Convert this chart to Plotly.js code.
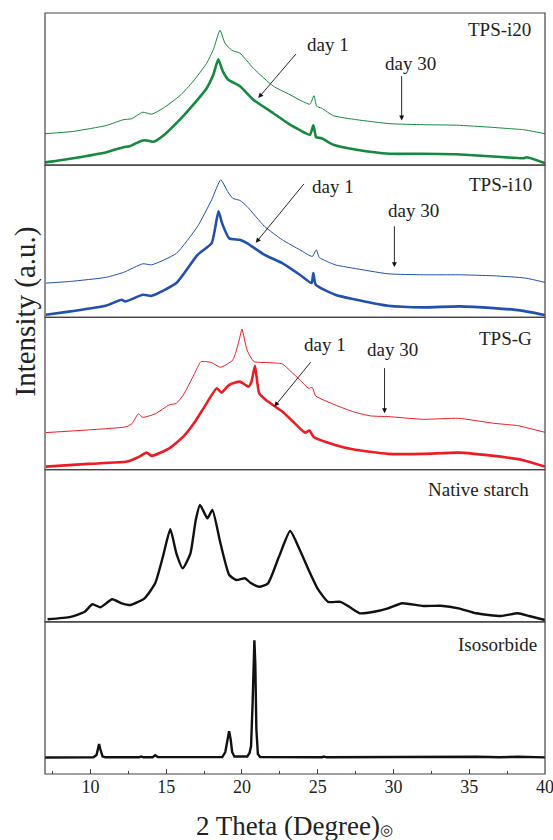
<!DOCTYPE html>
<html><head><meta charset="utf-8">
<script src="https://cdn.plot.ly/plotly-3.0.1.min.js"></script>
<style>html,body{margin:0;padding:0;background:#fff}#chart{width:553px;height:840px}</style>
</head><body><div id="chart"></div>
<script>
// ---- data (2θ in degrees, intensity in arbitrary units per panel) ----
const xTickVals = [10, 15, 20, 25, 30, 35, 40];
const panelNames = ["TPS-i20", "TPS-i10", "TPS-G", "Native starch", "Isosorbide"];

const i20Day30X = [7, 8.87, 11.07, 12.17, 12.72, 13.45, 14.04, 14.8, 15.9, 16.79, 17.67, 18.11, 18.55, 18.88, 19.32, 19.87, 20.75, 22.07, 23.17, 23.83, 24.49, 24.75, 24.93, 25.26, 26.03, 27.57, 29.77, 31.97, 34.17, 36.37, 38.57, 38.8, 40];
const i20Day30Y = [31.5, 33.8, 39.8, 45.5, 46.5, 53, 51, 57, 69.5, 84, 102, 115.5, 135, 122, 115, 112, 97, 79, 70.5, 65, 61, 69.5, 59, 57, 49.5, 45.5, 41.5, 40.5, 40, 38, 35.5, 35, 31.5];
const i20Day1X = [7, 8.87, 11.07, 12.17, 12.6, 13.3, 13.6, 14.15, 14.8, 15.9, 16.79, 17.67, 18.11, 18.44, 18.73, 19.1, 19.87, 20.75, 22.07, 23.17, 23.83, 24.49, 24.71, 24.9, 25.26, 26.03, 27.57, 29.77, 31.97, 34.17, 36.37, 38.57, 38.8, 40];
const i20Day1Y = [2.8, 7, 13, 18, 19, 24, 25, 23.5, 29.5, 45.5, 60.5, 77, 90.5, 106, 94, 85.5, 79, 65.5, 52, 40.5, 35, 30.5, 40, 28, 27, 20.5, 15.5, 11.5, 11.5, 11, 9, 7, 8, 2];

const i10Day30X = [7.06, 8.69, 11.01, 12.18, 13.46, 14.04, 15.67, 17.07, 18.0, 18.6, 19.05, 19.4, 19.86, 20.33, 21.49, 22.66, 23.82, 24.64, 24.91, 25.1, 26.15, 27.31, 29.64, 31.97, 34.3, 36.62, 38.72, 40];
const i10Day30Y = [34.3, 36, 40, 45, 53.6, 52.6, 64, 91, 117.6, 137.6, 126, 119, 117, 111, 91, 77.6, 67.6, 61, 67.6, 60, 52.6, 49.3, 43.6, 42.6, 42.6, 41.6, 39.3, 35];
const i10Day1X = [7.06, 8.69, 11.01, 12.06, 12.3, 13.46, 14.04, 15.67, 17.07, 18.0, 18.45, 18.69, 19.16, 19.86, 20.33, 21.49, 22.66, 23.82, 24.59, 24.71, 24.87, 26.15, 27.31, 29.64, 31.97, 34.3, 36.62, 38.37, 40];
const i10Day1Y = [2.6, 6, 11.6, 17.6, 16, 22.6, 21.6, 34.3, 62.6, 74.3, 106, 94, 79, 77.6, 74.3, 62.6, 54.3, 42.6, 34.3, 44.3, 32.6, 22.6, 18.3, 11.6, 10, 11, 9.3, 7, 2.3];

const gDay30X = [7.06, 9.85, 12.41, 12.76, 13.16, 13.46, 14.27, 15.2, 15.67, 16.13, 16.83, 17.3, 18.0, 18.58, 19.4, 19.82, 20.0, 20.33, 20.79, 21.72, 22.66, 23.24, 23.82, 24.4, 24.63, 24.87, 26.15, 27.31, 28.48, 29.64, 31.97, 34.3, 36.62, 38.2, 38.49, 40];
const gDay30Y = [37, 39.7, 43, 46.3, 55.7, 52.3, 55.7, 64.7, 66.3, 74.7, 94.7, 108, 107, 102.3, 109.7, 129.7, 140.4, 119.7, 108, 107, 105.7, 98, 89.7, 81.3, 82.3, 73.7, 64.7, 58, 53.7, 53, 50.3, 51.3, 46.3, 44, 43, 37.3];
const gDay1X = [7.06, 9.85, 12.41, 13.23, 13.7, 14.04, 15.2, 16.13, 16.83, 17.53, 18.34, 18.65, 19.16, 19.86, 20.44, 20.63, 20.86, 21.14, 21.72, 22.66, 23.59, 24.17, 24.45, 24.75, 26.15, 27.31, 29.64, 31.97, 34.3, 36.62, 38.49, 40];
const gDay1Y = [3, 5.7, 8, 13, 17, 13.7, 21.3, 33, 46.3, 63, 81.3, 77, 84.7, 88, 83, 88, 103.7, 76.3, 68, 58, 44.7, 37, 39, 32.3, 24.7, 20.3, 15.7, 15.7, 17, 13.7, 9.7, 3];

const starchX = [7.17, 8.69, 9.62, 10.13, 10.66, 11.43, 12.06, 12.64, 13.57, 14.27, 14.78, 15.27, 15.67, 16.09, 16.6, 16.95, 17.23, 17.72, 18.05, 18.58, 19.16, 19.63, 20.21, 20.56, 21.14, 21.72, 22.44, 23.18, 23.82, 24.4, 24.98, 25.68, 26.5, 27.08, 27.78, 28.71, 29.64, 30.57, 31.97, 33.13, 34.3, 35.46, 37.09, 38.21, 38.95, 40];
const starchY = [2.5, 5, 10, 17.5, 14.5, 22.5, 18.5, 16.8, 23.5, 38.5, 65, 92.5, 68.5, 53.5, 68.5, 101.8, 116.8, 103.5, 111.8, 78.5, 46.8, 41.8, 43.5, 39, 35, 38.5, 65, 90.8, 71.8, 51.8, 33.5, 20, 20, 15, 8.5, 10, 13.5, 18.5, 15.8, 16, 13.5, 8.5, 5.8, 8.5, 5.8, 1.8];

const isoX = [7, 10.2, 10.4, 10.5, 10.57, 10.65, 10.8, 11, 13.2, 13.35, 13.5, 14.1, 14.27, 14.45, 18.7, 18.9, 19.05, 19.15, 19.25, 19.35, 19.5, 20.35, 20.5, 20.6, 20.7, 20.78, 20.82, 20.88, 20.95, 21.05, 21.2, 25.3, 25.4, 25.6, 28, 30, 32.5, 34.5, 35.5, 37, 38.2, 40];
const isoY = [16.5, 16.7, 19, 26, 30, 25, 17.5, 16.7, 16.7, 17.5, 16.7, 16.8, 18.7, 16.9, 17, 22, 35, 42.7, 35, 22, 17.5, 17.5, 21, 28, 70, 125, 133.7, 110, 45, 20, 17, 16.8, 17.4, 16.7, 16.9, 16.7, 16.9, 16.9, 17.2, 16.7, 17.2, 16.6];

// ---- styling ----
const FONT = "Liberation Serif, Times New Roman, serif";
const GREEN = "#15893f", BLUE = "#2150ad", RED = "#ec1c24", BLACK = "#111111";
const H = 152.2;

function line(x, y, ax, color, width, shape) {
  return {x: x, y: y, yaxis: ax, xaxis: "x", type: "scatter", mode: "lines",
          line: {color: color, width: width, shape: shape || "spline", smoothing: 0.5},
          hoverinfo: "skip", showlegend: false};
}
const traces = [
  line(i20Day30X, i20Day30Y, "y", GREEN, 1),
  line(i20Day1X, i20Day1Y, "y", GREEN, 2.6),
  line(i10Day30X, i10Day30Y, "y2", BLUE, 1),
  line(i10Day1X, i10Day1Y, "y2", BLUE, 2.6),
  line(gDay30X, gDay30Y, "y3", RED, 1),
  line(gDay1X, gDay1Y, "y3", RED, 2.6),
  line(starchX, starchY, "y4", BLACK, 2.4),
  line(isoX, isoY, "y5", BLACK, 2.4, "linear")
];

const domains = [[0.8, 1], [0.6, 0.8], [0.4, 0.6], [0.2, 0.4], [0, 0.2]];
const layout = {
  width: 553, height: 840,
  margin: {l: 45, r: 8, t: 13, b: 66},
  paper_bgcolor: "#fff", plot_bgcolor: "#fff",
  font: {family: FONT, size: 18, color: "#222"},
  xaxis: {range: [7, 40], anchor: "y5", tickvals: xTickVals, ticks: "inside", ticklen: 5,
          tickwidth: 1, tickcolor: "#444", showgrid: false, zeroline: false, showline: false,
          ticklabeloverflow: "allow",
          tickfont: {family: FONT, size: 18, color: "#222"},
          minor: {ticks: "inside", ticklen: 3, tickwidth: 1, tickcolor: "#444", dtick: 2.5, tick0: 7.5, showgrid: false}},
  shapes: [], annotations: []
};
const axNames = ["yaxis", "yaxis2", "yaxis3", "yaxis4", "yaxis5"];
axNames.forEach((n, i) => {
  layout[n] = {domain: domains[i], range: [0, H], anchor: "x", showticklabels: false,
               ticks: "", showgrid: false, zeroline: false, showline: false, fixedrange: true};
  layout.shapes.push({type: "rect", xref: "paper", yref: "paper", x0: 0, x1: 1,
                      y0: domains[i][0], y1: domains[i][1], line: {color: "#444", width: 1.2}});
});

const yRefs = ["y", "y2", "y3", "y4", "y5"];
const labelPos = [[39.21, 135.5], [39.27, 132.6], [39.27, 130.7], [39.08, 131.8], [39.6, 130]];
panelNames.forEach((t, i) => {
  layout.annotations.push({text: t, xref: "x", yref: yRefs[i], x: labelPos[i][0], y: labelPos[i][1],
    xanchor: "right", yanchor: "middle", showarrow: false, font: {family: FONT, size: 19, color: "#222"}});
});
function txt(t, x, y, yr) {
  return {text: t, xref: "x", yref: yr, x: x, y: y, xanchor: "center", yanchor: "middle",
          showarrow: false, font: {family: FONT, size: 19, color: "#222"}};
}
function arrow(x, y, yr, ax, ay) {
  return {text: "", xref: "x", yref: yr, x: x, y: y, ax: ax, ay: ay, showarrow: true,
          arrowhead: 2, arrowsize: 1.1, arrowwidth: 0.9, arrowcolor: "#111"};
}
layout.annotations.push(
  txt("day 1", 25.68, 120.5, "y"), arrow(21.08, 67.2, "y", 39, -45.6),
  txt("day 30", 31.09, 101.5, "y"), arrow(30.54, 44.8, "y", 0, -45.7),
  txt("day 1", 26.01, 131, "y2"), arrow(20.91, 74.6, "y2", 49.3, -60.3),
  txt("day 30", 31.32, 107, "y2"), arrow(30.06, 50.3, "y2", 0, -42.3),
  txt("day 1", 25.45, 124.7, "y3"), arrow(22.14, 63, "y3", 37.6, -46),
  txt("day 30", 29.93, 120.2, "y3"), arrow(29.41, 56.4, "y3", 0, -46.6)
);
// axis titles
layout.annotations.push(
  {text: '2 Theta (Degree)<span style="font-size:15px">◎</span>', xref: "paper", yref: "paper",
   x: 0.498, y: -0.0683, xanchor: "center", yanchor: "middle", showarrow: false,
   font: {family: FONT, size: 27, color: "#222"}},
  {text: "Intensity (a.u.)", xref: "paper", yref: "paper", x: -0.04, y: 0.6078, textangle: -90,
   xanchor: "center", yanchor: "middle", showarrow: false, font: {family: FONT, size: 29, color: "#222"}}
);

Plotly.newPlot("chart", traces, layout, {staticPlot: true, displayModeBar: false});
</script>
</body></html>
